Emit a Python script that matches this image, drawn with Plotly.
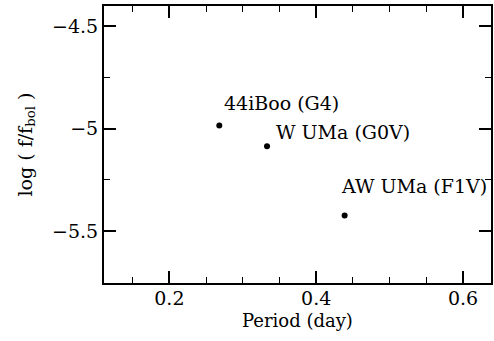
import plotly.graph_objects as go

names = ["44iBoo (G4)", "W UMa (G0V)", "AW UMa (F1V)"]
period = [0.268, 0.333, 0.4387]
logf = [-4.985, -5.086, -5.425]
label_dx = [3, 7, -6]
label_dy = [22, 14, 30]

x_ticks = [0.2, 0.4, 0.6]
x_ticktext = ["0.2", "0.4", "0.6"]
y_ticks = [-4.5, -5, -5.5]
y_ticktext = ["\u22124.5", "\u22125", "\u22125.5"]

FONT = "DejaVu Serif"
FS = 19

fig = go.Figure()
fig.add_trace(go.Scatter(
    x=period, y=logf, mode="markers",
    marker=dict(color="black", size=6),
    showlegend=False, hoverinfo="skip",
))

for n, x, y, dx, dy in zip(names, period, logf, label_dx, label_dy):
    fig.add_annotation(x=x, y=y, text=n, showarrow=False,
                       xanchor="left", yanchor="middle",
                       xshift=dx, yshift=dy,
                       font=dict(family=FONT, size=FS, color="black"))

# axis titles
fig.add_annotation(xref="paper", yref="paper", x=0.5, y=0, yshift=-37,
                   text="Period (day)", showarrow=False,
                   xanchor="center", yanchor="middle",
                   font=dict(family=FONT, size=18, color="black"))
fig.add_annotation(xref="paper", yref="paper", x=0, y=0.5, xshift=-78,
                   text="log ( f/f<sub>bol</sub> )", showarrow=False,
                   textangle=-90, xanchor="center", yanchor="middle",
                   font=dict(family=FONT, size=FS, color="black"))

axis_common = dict(
    showgrid=False, zeroline=False, showline=True, linecolor="black",
    linewidth=2, mirror="allticks", ticks="inside", ticklen=12,
    tickwidth=1.5, tickcolor="black", automargin=False,
    tickfont=dict(family=FONT, size=FS, color="black"),
)

fig.update_xaxes(range=[0.111, 0.638], tickvals=x_ticks, ticktext=x_ticktext,
                 ticklabelstandoff=-3,
                 minor=dict(ticks="inside", ticklen=6, dtick=0.05, tick0=0,
                            tickcolor="black", tickwidth=1),
                 **axis_common)
fig.update_yaxes(range=[-5.754, -4.402], tickvals=y_ticks, ticktext=y_ticktext,
                 minor=dict(ticks="inside", ticklen=6, dtick=0.25, tick0=0,
                            tickcolor="black", tickwidth=1),
                 **axis_common)

fig.update_layout(
    width=494, height=341,
    margin=dict(l=104, r=3, t=6, b=58, autoexpand=False),
    plot_bgcolor="white", paper_bgcolor="white",
)

fig.write_html("out.html", config={"displayModeBar": False},
               post_script="document.body.style.margin='0';document.body.style.overflow='hidden';")
